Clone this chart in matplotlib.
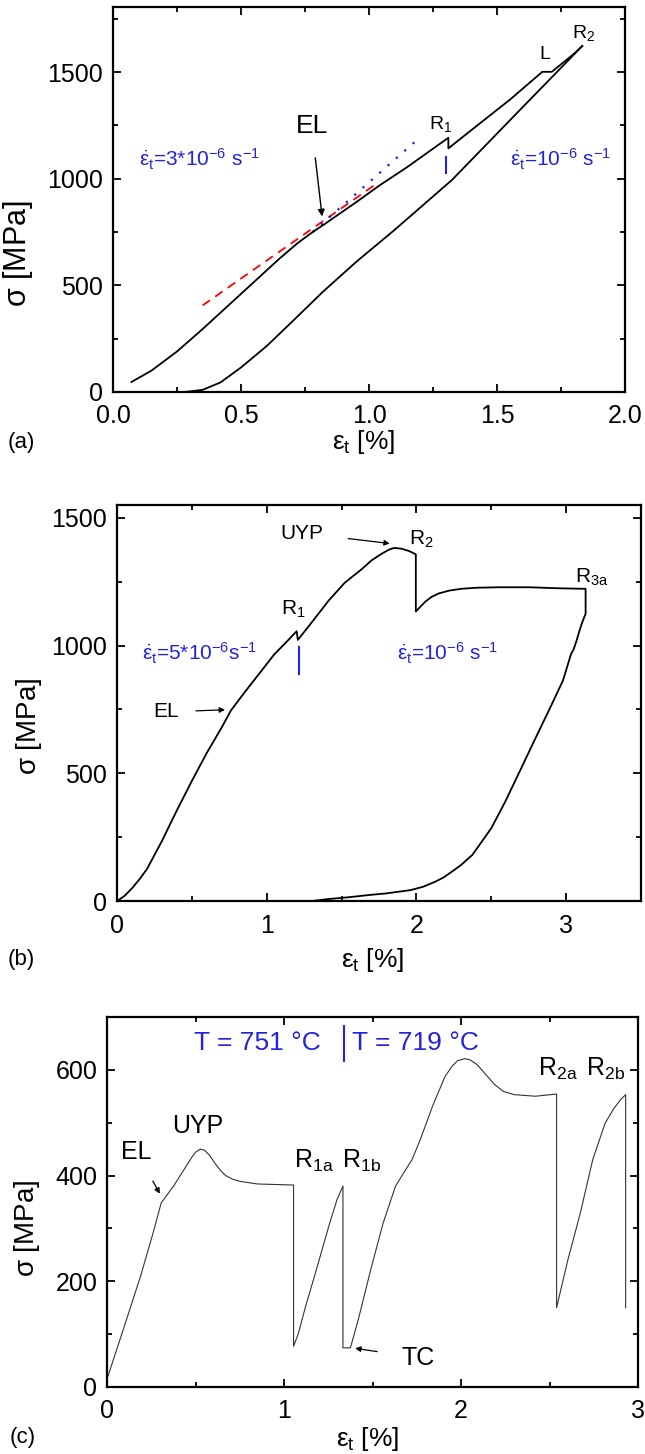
import numpy as np
import matplotlib
matplotlib.use("Agg")
import matplotlib.pyplot as plt
from matplotlib.ticker import MultipleLocator, FormatStrFormatter

plt.rcParams['font.family'] = ['Liberation Sans', 'DejaVu Sans']
plt.rcParams['mathtext.fontset'] = 'custom'
plt.rcParams['mathtext.rm'] = 'Liberation Sans'
plt.rcParams['mathtext.it'] = 'Liberation Sans'
plt.rcParams['mathtext.bf'] = 'Liberation Sans:bold'

BLUE = '#2323dc'

# ---- panel (a) data ----
a_load_x = [0.072, 0.15, 0.25, 0.35, 0.45, 0.55, 0.65, 0.72, 0.78, 0.83, 0.95, 1.043, 1.15, 1.31,
            1.31, 1.40, 1.55, 1.677, 1.714, 1.80, 1.833]
a_load_y = [47, 100, 190, 295, 405, 515, 625, 697, 750, 790, 890, 970, 1055, 1192,
            1142, 1228, 1370, 1501, 1501, 1585, 1622]
a_unl_x = [1.833, 1.60, 1.324, 1.10, 0.95, 0.82, 0.70, 0.60, 0.50, 0.42, 0.35, 0.28]
a_unl_y = [1622, 1335, 994, 760, 610, 470, 330, 215, 115, 45, 10, 0]
a_red_x = [0.35, 1.03]
a_red_y = [406, 977]
a_blue_x = [0.78, 1.20]
a_blue_y = [750, 1195]

# ---- panel (b) data ----
b_x = [0.0, 0.02, 0.05, 0.10, 0.15, 0.20, 0.30, 0.40, 0.50, 0.60, 0.70, 0.76,
       0.85, 0.95, 1.05, 1.15, 1.20,
       1.208, 1.30, 1.414, 1.52, 1.633, 1.70, 1.77, 1.82, 1.853, 1.90, 1.95, 1.996,
       1.996, 2.02, 2.06, 2.10, 2.15, 2.22, 2.30, 2.40, 2.55, 2.75, 2.95, 3.12,
       3.13, 3.13, 3.11, 3.09, 3.07, 3.05, 3.033, 2.978, 2.90, 2.786, 2.70, 2.594, 2.50,
       2.374, 2.30, 2.237, 2.18, 2.127, 2.045, 1.963, 1.80, 1.69, 1.55, 1.414, 1.30]
b_y = [0, 8, 20, 50, 85, 125, 235, 355, 470, 580, 680, 745,
       815, 890, 965, 1025, 1056,
       1022, 1090, 1176, 1245, 1298, 1333, 1360, 1376, 1382, 1379, 1370, 1357,
       1133, 1148, 1172, 1190, 1204, 1215, 1222, 1226, 1228, 1228, 1224, 1222,
       1222, 1124, 1095, 1060, 1020, 985, 967, 862, 765, 626, 520, 390, 285,
       181, 142, 115, 92, 76, 56, 43, 30, 24, 15, 8, 0]

# ---- panel (c) data ----
c_x = [0.0, 0.098, 0.19, 0.26, 0.306, 0.376, 0.446, 0.48, 0.50, 0.527, 0.55, 0.58, 0.608,
       0.64, 0.67, 0.71, 0.75, 0.85, 1.054,
       1.054, 1.08, 1.12, 1.189, 1.258, 1.30, 1.333,
       1.333, 1.375, 1.42, 1.49, 1.56, 1.60, 1.63, 1.676, 1.723, 1.77, 1.839, 1.909,
       1.95, 1.98, 2.02, 2.05, 2.09, 2.14, 2.19, 2.24, 2.30, 2.42, 2.536, 2.54,
       2.54, 2.604, 2.674, 2.744, 2.814, 2.86, 2.90, 2.93, 2.93]
c_y = [15, 115, 210, 291, 348, 380, 417, 435, 444, 450, 448, 438, 424,
       410, 400, 393, 389, 384, 382,
       77, 100, 150, 229, 310, 355, 380,
       74, 74, 128, 222, 310, 350, 380, 405, 430, 468, 531, 587,
       607, 617, 621, 619, 610, 591, 572, 559, 553, 550, 554, 554,
       150, 241, 329, 430, 499, 525, 543, 553, 150]

fig = plt.figure(figsize=(6.45, 14.54), dpi=100)
ax_a = fig.add_axes([0.1752, 0.7304, 0.7938, 0.2648])
ax_b = fig.add_axes([0.1814, 0.3803, 0.8124, 0.2724])
ax_c = fig.add_axes([0.1659, 0.0461, 0.8233, 0.2545])


def style(ax, xmaj, xmin, ymaj, ymin, ylab_size, xlab_pos, ylab_pos):
    ax.xaxis.set_major_locator(MultipleLocator(xmaj))
    ax.xaxis.set_minor_locator(MultipleLocator(xmin))
    ax.yaxis.set_major_locator(MultipleLocator(ymaj))
    ax.yaxis.set_minor_locator(MultipleLocator(ymin))
    ax.tick_params(which='both', direction='in', top=True, right=True, width=1.3)
    ax.tick_params(which='major', length=6, labelsize=18)
    ax.tick_params(axis='x', which='major', pad=9)
    ax.tick_params(axis='y', which='major', pad=7)
    ax.tick_params(which='minor', length=3.5)
    for s in ax.spines.values():
        s.set_linewidth(1.6)
    ax.set_xlabel(r'$\varepsilon_t$ [%]', fontsize=19)
    ax.set_ylabel(r'$\sigma$ [MPa]', fontsize=ylab_size)
    ax.xaxis.set_label_coords(*xlab_pos)
    ax.yaxis.set_label_coords(*ylab_pos)


# (a)
ax = ax_a
ax.plot(a_red_x, a_red_y, color='red', lw=1.3, linestyle=(0, (5, 3.5)))
ax.plot(a_blue_x, a_blue_y, color=BLUE, lw=1.6, linestyle=(0, (1, 4)))
ax.plot(a_load_x, a_load_y, color='black', lw=1.3)
ax.plot(a_unl_x, a_unl_y, color='black', lw=1.3)
ax.plot([1.30, 1.30], [1027, 1102], color=BLUE, lw=1.5)
ax.set_xlim(0, 2.0)
ax.set_ylim(0, 1805)
ax.xaxis.set_major_formatter(FormatStrFormatter('%.1f'))
style(ax, 0.5, 0.25, 500, 250, 22, (0.49, -0.094), (-0.152, 0.36))
ax.annotate('EL', xy=(0.818, 810), xytext=(0.776, 1245), fontsize=19, ha='center', va='center',
            arrowprops=dict(arrowstyle='-|>', color='black', lw=1.0, mutation_scale=10, shrinkA=12))
ax.text(1.28, 1255, r'R$_1$', fontsize=14, ha='center', va='center')
ax.text(1.688, 1580, 'L', fontsize=14, ha='center', va='center')
ax.text(1.84, 1685, r'R$_2$', fontsize=14, ha='center', va='center')
ax.text(0.10, 1090, r'$\dot{\varepsilon}_t$=3*10$^{-6}$ s$^{-1}$', fontsize=15, color=BLUE,
        ha='left', va='center')
ax.text(1.55, 1090, r'$\dot{\varepsilon}_t$=10$^{-6}$ s$^{-1}$', fontsize=15, color=BLUE,
        ha='left', va='center')

# (b)
ax = ax_b
ax.plot(b_x, b_y, color='black', lw=1.3)
ax.plot([1.213, 1.213], [888, 993], color=BLUE, lw=1.5)
ax.set_xlim(0, 3.5)
ax.set_ylim(0, 1550)
style(ax, 1, 0.5, 500, 250, 20, (0.487, -0.114), (-0.139, 0.44))
ax.annotate('UYP', xy=(1.84, 1398), xytext=(1.235, 1440), fontsize=15, ha='center', va='center',
            arrowprops=dict(arrowstyle='-|>', color='black', lw=0.9, mutation_scale=8, shrinkA=16))
ax.annotate('EL', xy=(0.74, 749), xytext=(0.33, 740), fontsize=15, ha='center', va='center',
            arrowprops=dict(arrowstyle='-|>', color='black', lw=0.9, mutation_scale=8, shrinkA=10))
ax.text(1.18, 1140, r'R$_1$', fontsize=15, ha='center', va='center')
ax.text(2.03, 1415, r'R$_2$', fontsize=15, ha='center', va='center')
ax.text(3.17, 1265, r'R$_{3a}$', fontsize=15, ha='center', va='center')
ax.text(0.165, 970, r'$\dot{\varepsilon}_t$=5*10$^{-6}$s$^{-1}$', fontsize=15, color=BLUE,
        ha='left', va='center')
ax.text(1.867, 970, r'$\dot{\varepsilon}_t$=10$^{-6}$ s$^{-1}$', fontsize=15, color=BLUE,
        ha='left', va='center')

# (c)
ax = ax_c
ax.plot(c_x, c_y, color='#333333', lw=0.8)
ax.plot([1.34, 1.34], [616, 682], color=BLUE, lw=1.5)
ax.set_xlim(0, 3)
ax.set_ylim(0, 700)
style(ax, 1, 0.5, 200, 100, 20, (0.49, -0.103), (-0.122, 0.43))
ax.text(0.852, 650, 'T = 751 °C', fontsize=19, color=BLUE, ha='center', va='center')
ax.text(1.385, 650, 'T = 719 °C', fontsize=19, color=BLUE, ha='left', va='center')
ax.text(0.515, 493, 'UYP', fontsize=18, ha='center', va='center')
ax.annotate('EL', xy=(0.306, 361), xytext=(0.167, 445), fontsize=18, ha='center', va='center',
            arrowprops=dict(arrowstyle='-|>', color='black', lw=0.9, mutation_scale=8, shrinkA=12))
ax.text(1.17, 428, r'R$_{1a}$', fontsize=18, ha='center', va='center')
ax.text(1.44, 428, r'R$_{1b}$', fontsize=18, ha='center', va='center')
ax.text(2.55, 601, r'R$_{2a}$', fontsize=18, ha='center', va='center')
ax.text(2.815, 601, r'R$_{2b}$', fontsize=18, ha='center', va='center')
ax.annotate('TC', xy=(1.386, 74), xytext=(1.76, 55), fontsize=18, ha='center', va='center',
            arrowprops=dict(arrowstyle='-|>', color='black', lw=0.9, mutation_scale=8, shrinkA=16))

fig.text(8 / 645, 1 - 443 / 1454, '(a)', fontsize=16, ha='left', va='center')
fig.text(8 / 645, 1 - 960 / 1454, '(b)', fontsize=16, ha='left', va='center')
fig.text(10 / 645, 1 - 1437 / 1454, '(c)', fontsize=16, ha='left', va='center')

fig.savefig('out.png', dpi=100)
